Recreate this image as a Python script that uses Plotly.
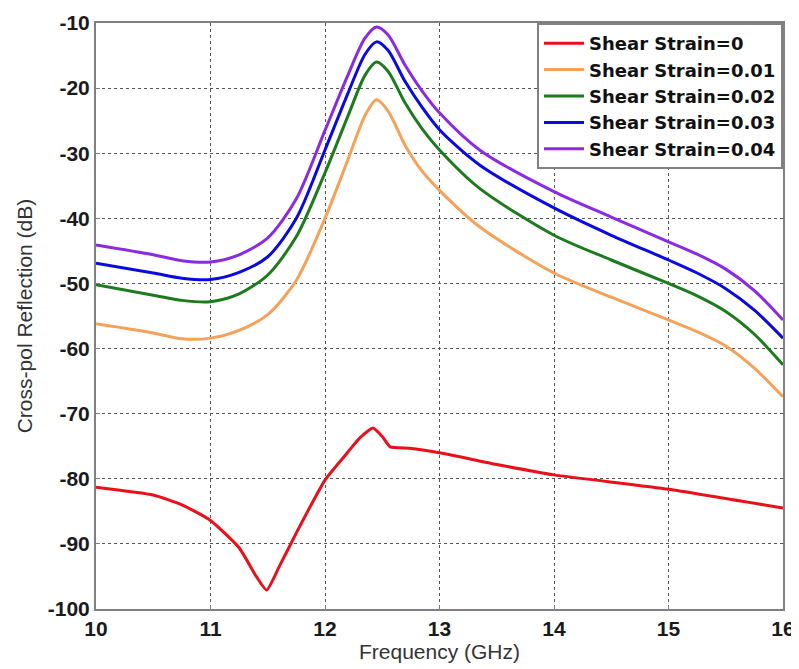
import plotly.graph_objects as go

# Frequency grid for the strained curves (GHz)
freq = [10, 10.5, 10.75, 11, 11.25, 11.5, 11.75, 12, 12.2, 12.35, 12.45, 12.55, 12.7, 12.85,
        13, 13.35, 14, 14.5, 15, 15.25, 15.5, 15.75, 16]
strain_001 = [-56.2, -57.6, -58.5, -58.4, -57.2, -54.8, -49.5, -40.0, -31.0, -24.2, -21.8, -23.5, -28.8, -32.8,
              -35.7, -41.3, -48.4, -52.1, -55.6, -57.4, -59.6, -63.0, -67.4]
strain_002 = [-50.2, -51.8, -52.6, -52.8, -51.6, -48.7, -42.8, -33.0, -24.3, -18.0, -16.0, -17.4, -22.3, -26.3,
              -29.5, -35.4, -42.6, -46.4, -50.0, -51.9, -54.3, -57.8, -62.5]
strain_003 = [-46.9, -48.4, -49.2, -49.4, -48.3, -45.9, -40.0, -29.5, -20.8, -14.8, -12.9, -14.2, -19.0, -23.0,
              -26.4, -31.8, -38.4, -42.6, -46.4, -48.4, -50.8, -54.1, -58.4]
strain_004 = [-44.1, -45.6, -46.5, -46.7, -45.6, -43.0, -37.0, -26.5, -18.0, -12.3, -10.6, -11.8, -16.5, -20.5,
              -23.8, -29.5, -35.9, -39.8, -43.6, -45.5, -47.8, -51.1, -55.6]

# Zero-strain curve
freq_0 = [10, 10.5, 10.75, 11, 11.25, 11.4, 11.49, 11.6, 11.75, 12, 12.2, 12.3, 12.42, 12.5, 12.57,
          12.74, 13, 13.5, 14, 15, 16]
strain_0 = [-81.3, -82.5, -84.0, -86.4, -90.6, -95.0, -97.1, -93.5, -88.3, -80.2, -75.9, -73.8, -72.2,
            -73.5, -75.1, -75.3, -76.0, -77.8, -79.4, -81.6, -84.5]

names = ["Shear Strain=0", "Shear Strain=0.01", "Shear Strain=0.02", "Shear Strain=0.03", "Shear Strain=0.04"]
colors = ["#e8101a", "#f4a25a", "#1d7a1d", "#0a0ae0", "#8a2be2"]

x_ticks = [10, 11, 12, 13, 14, 15, 16]
x_ticktext = ["10", "11", "12", "13", "14", "15", "16"]
y_ticks = [-100, -90, -80, -70, -60, -50, -40, -30, -20, -10]
y_ticktext = ["-100", "-90", "-80", "-70", "-60", "-50", "-40", "-30", "-20", "-10"]

FONT = "Liberation Sans, Arial"

fig = go.Figure()
fig.add_trace(go.Scatter(x=freq_0, y=strain_0, mode="lines", name=names[0],
                         line=dict(color=colors[0], width=3, shape="spline", smoothing=0.5)))
for name, col, ys in zip(names[1:], colors[1:], [strain_001, strain_002, strain_003, strain_004]):
    fig.add_trace(go.Scatter(x=freq, y=ys, mode="lines", name=name,
                             line=dict(color=col, width=3, shape="spline", smoothing=0.8)))

axis_common = dict(
    showline=True, linecolor="#808080", linewidth=2, mirror=True,
    showgrid=True, gridcolor="#555555", griddash="dot", gridwidth=1,
    ticks="inside", ticklen=4, tickcolor="#808080",
    tickfont=dict(family=FONT, size=21, color="#1a1a1a", weight="bold"),
    zeroline=False, automargin=False,
)

# The page body has an 8px default margin, so the figure is sized to the visible area.
fig.update_layout(
    width=791, height=661,
    margin=dict(l=88, r=16, t=15, b=60),
    paper_bgcolor="white", plot_bgcolor="white",
    xaxis=dict(range=[10, 16], tickvals=x_ticks, ticktext=x_ticktext,
               title=dict(text="Frequency (GHz)", standoff=4,
                          font=dict(family=FONT, size=21, color="#333333")),
               **axis_common),
    yaxis=dict(range=[-100, -10], tickvals=y_ticks, ticktext=y_ticktext,
               title=dict(text="Cross-pol Reflection (dB)", standoff=9,
                          font=dict(family=FONT, size=21, color="#333333")),
               **axis_common),
    legend=dict(x=1, y=1, xanchor="right", yanchor="top",
                bgcolor="white", bordercolor="#808080", borderwidth=2,
                font=dict(family="DejaVu Sans", size=18, color="#111111", weight="bold"),
                tracegroupgap=0, itemwidth=40),
    showlegend=True,
)

fig.write_html("out.html")
